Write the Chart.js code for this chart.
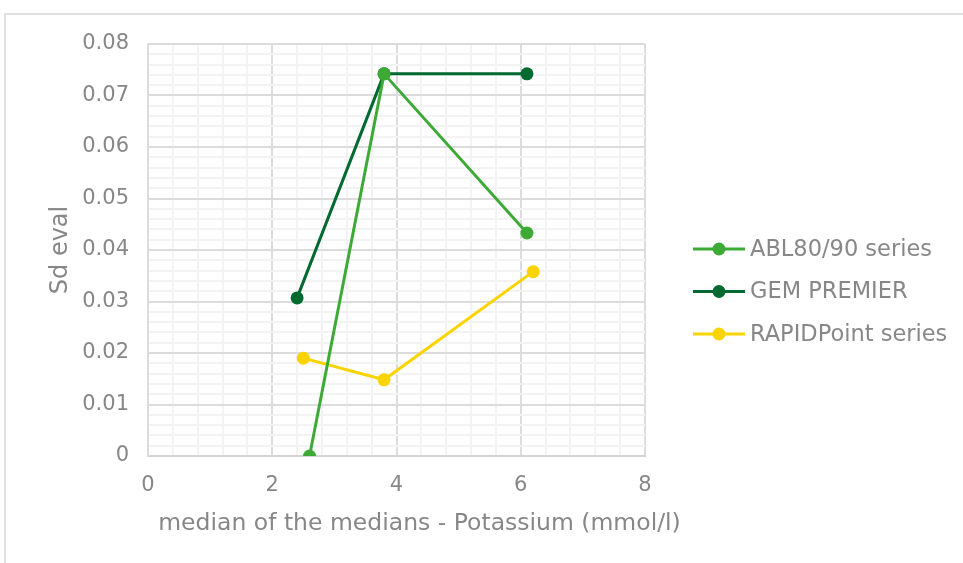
<!DOCTYPE html>
<html lang="en">
<head>
    <meta charset="UTF-8">
    <title>Sd eval - Potassium</title>
    <script src="https://cdn.jsdelivr.net/npm/chart.js"></script>
    <style>
        body {
            margin: 0;
            padding: 0;
            background: #ffffff;
            width: 963px;
            height: 563px;
            overflow: hidden;
            position: relative;
        }

        /* light frame around the chart object */
        .frame {
            position: absolute;
            left: 4px;
            top: 13px;
            width: 980px;
            height: 600px;
            border-left: 2px solid #e0e0e0;
            border-top: 2px solid #e0e0e0;
        }

        canvas {
            position: absolute;
            left: 0;
            top: 0;
        }
    </style>
</head>
<body>

<div class="frame"></div>
<canvas id="myChart" width="963" height="563"></canvas>

<script>
    // Data
    const seriesNames = ['ABL80/90 series', 'GEM PREMIER', 'RAPIDPoint series'];
    const seriesColors = ['#3daa36', '#016a30', '#fad400'];

    const ablX = [2.6, 3.8, 6.1];
    const ablY = [0, 0.0742, 0.0433];
    const gemX = [2.4, 3.8, 6.1];
    const gemY = [0.0307, 0.0742, 0.0742];
    const rapidX = [2.5, 3.8, 6.2];
    const rapidY = [0.019, 0.0148, 0.0358];

    const xTicks = [0, 2, 4, 6, 8];
    const yTicks = [0, 0.01, 0.02, 0.03, 0.04, 0.05, 0.06, 0.07, 0.08];

    const xTitle = 'median of the medians - Potassium (mmol/l)';
    const yTitle = 'Sd eval';

    const textColor = '#878787';
    const fontFamily = '"DejaVu Sans", sans-serif';

    function toPoints(xs, ys) {
        return xs.map((x, i) => ({ x: x, y: ys[i] }));
    }

    const allX = [ablX, gemX, rapidX];
    const allY = [ablY, gemY, rapidY];

    const datasets = seriesNames.map((name, i) => ({
        label: name,
        data: toPoints(allX[i], allY[i]),
        borderColor: seriesColors[i],
        backgroundColor: seriesColors[i],
        borderWidth: 3,
        pointRadius: 6.5,
        pointHoverRadius: 6.5,
        pointBorderWidth: 0,
        showLine: true,
        tension: 0
    }));

    const isMajorX = v => Math.abs(v / 2 - Math.round(v / 2)) < 1e-6;
    const isMajorY = v => Math.round(v * 500) % 5 === 0;

    // legend (line + dot) and x title drawn by hand, like Excel does
    const extras = {
        id: 'extras',
        afterDraw(chart) {
            const ctx = chart.ctx;
            const area = chart.chartArea;
            ctx.save();
            ctx.fillStyle = textColor;
            ctx.textBaseline = 'middle';

            // x axis title
            ctx.font = '23.5px ' + fontFamily;
            ctx.textAlign = 'center';
            ctx.fillText(xTitle, (area.left + area.right) / 2 + 23, 524);

            // legend
            ctx.font = '22.5px ' + fontFamily;
            ctx.textAlign = 'left';
            chart.data.datasets.forEach((ds, i) => {
                const y = 249 + i * 42.5;
                const x0 = area.right + 48;
                ctx.strokeStyle = ds.borderColor;
                ctx.lineWidth = 3;
                ctx.beginPath();
                ctx.moveTo(x0, y);
                ctx.lineTo(x0 + 52, y);
                ctx.stroke();
                ctx.fillStyle = ds.backgroundColor;
                ctx.beginPath();
                ctx.arc(x0 + 26, y, 6.5, 0, Math.PI * 2);
                ctx.fill();
                ctx.fillStyle = textColor;
                ctx.fillText(ds.label, x0 + 57, y + 1);
            });
            ctx.restore();
        }
    };

    const ctx = document.getElementById('myChart').getContext('2d');
    const myChart = new Chart(ctx, {
        type: 'scatter',
        data: { datasets: datasets },
        options: {
            responsive: false,
            animation: false,
            layout: {
                padding: { left: 46, top: 44, right: 318, bottom: 0 }
            },
            plugins: {
                legend: { display: false },
                tooltip: { enabled: false }
            },
            scales: {
                x: {
                    type: 'linear',
                    min: xTicks[0],
                    max: xTicks[xTicks.length - 1],
                    afterFit: scale => { scale.height = 107; },
                    ticks: {
                        stepSize: 0.4,
                        autoSkip: false,
                        maxRotation: 0,
                        padding: 17,
                        color: textColor,
                        font: { family: fontFamily, size: 21 },
                        callback: v => (isMajorX(v) && xTicks.includes(Math.round(v))) ? String(Math.round(v)) : ''
                    },
                    grid: {
                        drawTicks: false,
                        color: c => isMajorX(c.tick.value) ? '#dcdcdc' : '#f3f3f3',
                        lineWidth: 2
                    },
                    border: { display: true, color: '#d4d4d4', width: 2 },
                    title: { display: false }
                },
                y: {
                    min: yTicks[0],
                    max: yTicks[yTicks.length - 1],
                    afterFit: scale => { scale.width = 102; },
                    ticks: {
                        stepSize: 0.002,
                        autoSkip: false,
                        padding: 19,
                        color: textColor,
                        font: { family: fontFamily, size: 21 },
                        callback: v => {
                            if (!isMajorY(v)) return '';
                            const r = Math.round(v * 100) / 100;
                            return r === 0 ? '0' : r.toFixed(2);
                        }
                    },
                    grid: {
                        drawTicks: false,
                        color: c => isMajorY(c.tick.value) ? '#dcdcdc' : '#f3f3f3',
                        lineWidth: 2
                    },
                    border: { display: true, color: '#dcdcdc', width: 2 },
                    title: {
                        display: true,
                        text: yTitle,
                        color: textColor,
                        padding: { top: 0, bottom: 0 },
                        font: { family: fontFamily, size: 24 }
                    }
                }
            }
        },
        plugins: [extras]
    });
</script>

</body>
</html>
